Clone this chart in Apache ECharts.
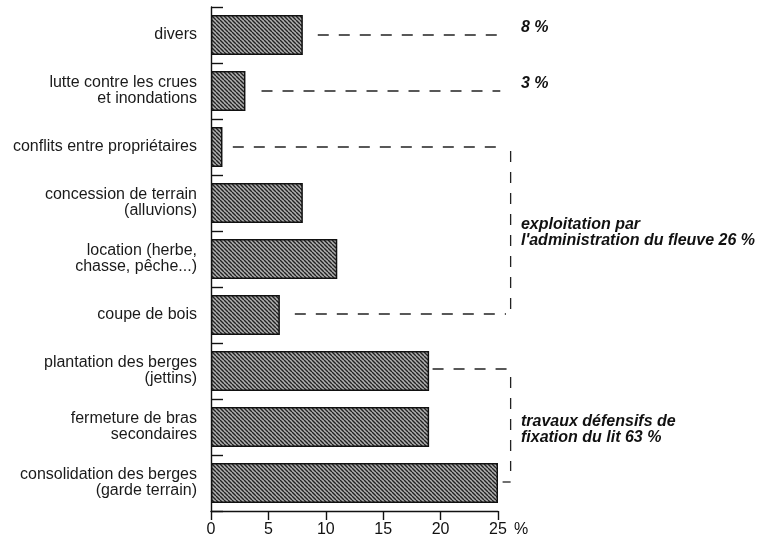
<!DOCTYPE html>
<html><head><meta charset="utf-8">
<script src="https://cdn.jsdelivr.net/npm/echarts@6/dist/echarts.min.js"></script>
<style>html,body{margin:0;padding:0;background:#fff}#c{width:770px;height:540px}</style>
</head><body><div id="c"></div>
<script>
const categories = ['divers', 'lutte contre les crues\net inondations', 'conflits entre propriétaires',
  'concession de terrain\n(alluvions)', 'location (herbe,\nchasse, pêche...)', 'coupe de bois',
  'plantation des berges\n(jettins)', 'fermeture de bras\nsecondaires', 'consolidation des berges\n(garde terrain)'];
const values = [8, 3, 1, 8, 11, 6, 19, 19, 25];
const xTickMax = 25;
const xTickStep = 5;
const groupTexts = ['8 %', '3 %', "exploitation par\nl'administration du fleuve 26 %", 'travaux défensifs de\nfixation du lit 63 %'];

const FONT = "'Liberation Sans', Arial, sans-serif";

// hatch pattern
const pc = document.createElement('canvas');
pc.width = 4; pc.height = 4;
const g = pc.getContext('2d');
g.fillStyle = '#b0b0b0';
g.fillRect(0, 0, 4, 4);
g.strokeStyle = '#222';
g.lineWidth = 1.4;
for (let k = -8; k <= 8; k += 4) {
  g.beginPath(); g.moveTo(k, 0); g.lineTo(k + 4, 4); g.stroke();
}

const chart = echarts.init(document.getElementById('c'), null, {renderer: 'canvas'});
chart.setOption({
  animation: false,
  backgroundColor: '#fff',
  grid: {left: 211, right: 272, top: 7, bottom: 29, containLabel: false},
  xAxis: {
    type: 'value', min: 0, max: xTickMax, interval: xTickStep,
    axisLine: {show: true, lineStyle: {color: '#111', width: 1.4}},
    axisTick: {show: true, length: 9, lineStyle: {color: '#111', width: 1.4}},
    axisLabel: {fontFamily: FONT, fontSize: 16, color: '#111', margin: 11},
    splitLine: {show: false}
  },
  yAxis: {
    type: 'category', data: categories, inverse: true,
    axisLine: {show: true, lineStyle: {color: '#111', width: 1.4}},
    axisTick: {show: true, inside: true, length: 12, lineStyle: {color: '#111', width: 1.4}},
    axisLabel: {fontFamily: FONT, fontSize: 16, color: '#1a1a1a', margin: 14, lineHeight: 16, align: 'right'}
  },
  series: [{
    type: 'bar', data: values, barWidth: 40,
    itemStyle: {color: {image: pc, repeat: 'repeat'}, borderColor: '#111', borderWidth: 1.5}
  }]
});

function px(x, ci) { return chart.convertToPixel({gridIndex: 0}, [x, ci]); }
const dash = {stroke: '#222', lineWidth: 1.3, lineDash: [11, 10]};
function hline(x1, x2, ci, dy) {
  const a = px(x1, ci), b = px(x2, ci);
  return {type: 'line', shape: {x1: a[0], y1: a[1] + (dy || 0), x2: b[0], y2: b[1] + (dy || 0)}, style: dash, silent: true};
}
function vline(x, ci1, ci2, dy1, dy2) {
  const a = px(x, ci1), b = px(x, ci2);
  return {type: 'line', shape: {x1: a[0], y1: a[1] + dy1, x2: b[0], y2: b[1] + dy2}, style: dash, silent: true};
}
function txt(s, x, ci, dy, vAlign) {
  const p = px(x, ci);
  return {type: 'text', x: p[0], y: p[1] + dy, silent: true,
    style: {text: s, fontFamily: FONT, fontSize: 16, fontWeight: 'bold', fontStyle: 'italic', fill: '#111',
      lineHeight: 16, verticalAlign: vAlign, align: 'left'}};
}
const p25 = px(xTickMax, 8);
const els = [
  hline(9.3, 25.6, 0, 0),
  hline(4.4, 25.2, 1, 0),
  hline(1.9, 25.6, 2, 0),
  vline(26.1, 2, 5, 4, -4),
  hline(7.3, 25.7, 5, -1),
  hline(19.3, 26.0, 6, -2),
  vline(26.1, 6, 8, 6, -12),
  hline(25.4, 26.1, 8, -1),
  txt(groupTexts[0], 27.0, 0, 1, 'bottom'),
  txt(groupTexts[1], 27.0, 1, 1, 'bottom'),
  txt(groupTexts[2], 27.0, 3, 30, 'middle'),
  txt(groupTexts[3], 27.0, 7, 3, 'middle'),
  {type: 'text', x: p25[0] + 16, y: 530, silent: true,
    style: {text: '%', fontFamily: FONT, fontSize: 16, fill: '#111', verticalAlign: 'middle', align: 'left'}}
];
chart.setOption({graphic: {elements: els}});
</script></body></html>
